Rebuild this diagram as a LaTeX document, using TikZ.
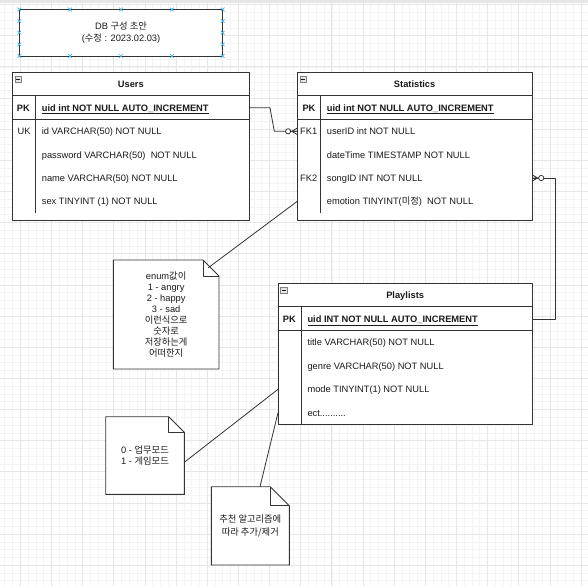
\documentclass[tikz,border=0pt]{standalone}
\usepackage{fontspec}
\setmainfont{Liberation Sans}
\newfontfamily\kr{Noto Sans CJK KR}
\usetikzlibrary{calc,backgrounds}
\definecolor{ink}{HTML}{1A1A1A}
\definecolor{edge}{HTML}{333333}
\definecolor{gridmin}{HTML}{F4F4F4}
\definecolor{gridmaj}{HTML}{E6E6E6}
\definecolor{grip}{HTML}{3DB8F5}

\begin{document}
\begin{tikzpicture}[
  x=1pt, y=-1pt,
  line join=round,
  font=\fontsize{9.3}{11.1}\selectfont,
  every node/.style={text=ink},
  frame/.style={draw=edge, line width=0.9pt},
  tbl/.style={frame, fill=white, anchor=north west, inner sep=0pt, outer sep=0pt},
  row/.style={anchor=west, inner sep=0pt, text height=6.7pt, text depth=0pt},
  key/.style={inner sep=0pt, text height=6.7pt, text depth=0pt},
  bold/.style={font=\fontsize{9.3}{11.1}\selectfont\bfseries},
  memo/.style={anchor=north west, inner sep=0pt, outer sep=0pt, align=center},
  link/.style={draw=edge, line width=0.8pt},
  gripmark/.style={draw=grip, line width=0.7pt},
  zeromany/.pic={
    \draw[link] (-5.5,0) -- (0,-3.3) (-5.5,0) -- (0,3.3) (-9,0) -- (0,0);
    \draw[link, fill=white] (-9.2,0) circle[radius=2.6pt];
  },
]
\useasboundingbox (0,0) rectangle (588,586);

% ── the canvas grid ───────────────────────────────────────────────────────
\begin{scope}[on background layer]
  \clip (0,0) rectangle (588,586);
  \fill[white] (0,0) rectangle (588,586);
  \foreach \i in {-2,...,73} { \draw[gridmin, line width=0.5pt] ({20.25+7.7875*\i},0) -- ++(0,586); }
  \foreach \j in {0,...,75} { \draw[gridmin, line width=0.5pt] (0,{4.45+7.7875*\j}) -- ++(588,0); }
  \foreach \i in {0,...,18} { \draw[gridmaj, line width=0.6pt] ({20.25+31.15*\i},0) -- ++(0,586); }
  \foreach \j in {0,...,18} { \draw[gridmaj, line width=0.6pt] (0,{4.45+31.15*\j}) -- ++(588,0); }
  \fill[gridmaj] (0,0) rectangle (588,3);
\end{scope}

% ── the title box, still selected ─────────────────────────────────────────
\node[tbl, minimum width=203.4pt, minimum height=46.5pt, align=center] (title) at (19.3,9.5)
  {DB {\kr 구성 초안}\\[1.5pt]({\kr 수정} : 2023.02.03)};
\foreach \fx in {0,0.25,0.5,0.75,1} {
  \draw[gripmark] ($(title.north west)!\fx!(title.north east)$) ++(-1.8,-1.8) -- ++(3.6,3.6) ++(-3.6,0) -- ++(3.6,-3.6);
  \draw[gripmark] ($(title.south west)!\fx!(title.south east)$) ++(-1.8,-1.8) -- ++(3.6,3.6) ++(-3.6,0) -- ++(3.6,-3.6);
}
\foreach \fy in {0.25,0.5,0.75} {
  \draw[gripmark] ($(title.north west)!\fy!(title.south west)$) ++(-1.8,-1.8) -- ++(3.6,3.6) ++(-3.6,0) -- ++(3.6,-3.6);
  \draw[gripmark] ($(title.north east)!\fy!(title.south east)$) ++(-1.8,-1.8) -- ++(3.6,3.6) ++(-3.6,0) -- ++(3.6,-3.6);
}

% ── the three tables ──────────────────────────────────────────────────────
\node[tbl, minimum width=237pt, minimum height=148.4pt] (users) at (12.3,72.3) {};
\node[tbl, minimum width=234.7pt, minimum height=148.4pt] (statistics) at (297.3,72.3) {};
\node[tbl, minimum width=254.3pt, minimum height=140.7pt] (playlists) at (278,283.3) {};

\foreach \t/\s/\h in {users/140.4/Users, statistics/140.4/Statistics, playlists/140.7/Playlists} {
  \draw[frame] ([yshift=-23.6pt]\t.north west) -- ([yshift=-23.6pt]\t.north east);
  \draw[frame] ([yshift=-47pt]\t.north west) -- ([yshift=-47pt]\t.north east);
  \draw[frame] ([xshift=23.6pt,yshift=-23.6pt]\t.north west) -- ++(0,\s-23.6);
  \draw[draw=gray, fill=gray!20, line width=0.5pt] ([xshift=2.6pt,yshift=-3.6pt]\t.north west) rectangle ++(6.4,6.4);
  \draw[ink, line width=0.6pt] ([xshift=3.8pt,yshift=-6.8pt]\t.north west) -- ++(4,0);
  \node[key, bold] (\t-head) at ($(\t.north)+(0,11.8)$) {\h};
}

% Users
\node[key, bold] (u-pk) at (23.3,107.7) {PK};
\node[row, bold] (u-uid) at (41.7,107.7) {\underline{uid int NOT NULL AUTO\_INCREMENT}};
\node[key] (u-uk) at (24,131.3) {UK};
\foreach \n/\y/\t in {id/131.3/id VARCHAR(50) NOT NULL,
    pw/154.7/password VARCHAR(50)~ NOT NULL,
    name/178/name VARCHAR(50) NOT NULL,
    sex/201.3/sex TINYINT (1) NOT NULL}
  { \node[row] (u-\n) at (41.7,\y) {\t}; }

% Statistics
\node[key, bold] (s-pk) at (309,107.7) {PK};
\node[row, bold] (s-uid) at (326.7,107.7) {\underline{uid int NOT NULL AUTO\_INCREMENT}};
\node[key] (s-fk1) at (308.7,131.3) {FK1};
\node[key] (s-fk2) at (308.7,178) {FK2};
\foreach \n/\y/\t in {userID/131.3/userID int NOT NULL,
    dateTime/154.7/dateTime TIMESTAMP NOT NULL,
    songID/178/songID INT NOT NULL,
    emotion/201.3/emotion TINYINT({\kr 미정})~ NOT NULL}
  { \node[row] (s-\n) at (326.7,\y) {\t}; }

% Playlists
\node[key, bold] (p-pk) at (289.3,319) {PK};
\node[row, bold] (p-uid) at (307.3,319) {\underline{uid INT NOT NULL AUTO\_INCREMENT}};
\foreach \n/\y/\t in {title/342.3/title VARCHAR(50) NOT NULL,
    genre/366/genre VARCHAR(50) NOT NULL,
    mode/389.3/mode TINYINT(1) NOT NULL}
  { \node[row] (p-\n) at (307.3,\y) {\t}; }
\node[row] (p-ect) at (307.3,412.7) {ect..........};

% ── the relations ─────────────────────────────────────────────────────────
\draw[link] (users.east |- u-uid) -- ++(20.7,0)
  -- ($(statistics.west |- s-userID)+(-23,0)$) -- (statistics.west |- s-userID);
\pic at (statistics.west |- s-userID) {zeromany};

\draw[link] (playlists.east |- p-uid) -- ++(22.7,0) |- (statistics.east |- s-songID);
\pic[rotate=180] at (statistics.east |- s-songID) {zeromany};

% ── the notes ─────────────────────────────────────────────────────────────
\node[memo, minimum width=105.7pt, minimum height=109pt] (n-enum) at (113.3,260)
  {enum{\kr 값이}\\1 - angry\\2 - happy\\3 - sad\\{\kr 이런식으로}\\{\kr 숫자로}\\{\kr 저장하는게}\\{\kr 어떠한지}};
\node[memo, minimum width=78.6pt, minimum height=77.6pt] (n-mode) at (105.7,416.7)
  {0 - {\kr 업무모드}\\1 - {\kr 게임모드}};
\node[memo, minimum width=78pt, minimum height=78.3pt] (n-algo) at (211.3,486.7)
  {{\kr 추천 알고리즘에}\\[1.5pt]{\kr 따라 추가/제거}};

\begin{scope}[on background layer]
\foreach \m/\f in {n-enum/16, n-mode/15.5, n-algo/19} {
  \draw[frame, fill=white] (\m.north west) -- ([xshift=-\f pt]\m.north east)
    -- ([yshift=-\f pt]\m.north east) -- (\m.south east) -- (\m.south west) -- cycle;
}
\end{scope}
\foreach \m/\f in {n-enum/16, n-mode/15.5, n-algo/19} {
  \draw[frame] ([xshift=-\f pt]\m.north east) -- ++(0,\f) -- ([yshift=-\f pt]\m.north east);
}

\coordinate (enum-fold) at ($(n-enum.north east)+(-10.7,7.7)$);
\draw[link] (enum-fold) -- (statistics.west |- s-emotion);
\draw[link] ($(n-mode.east)+(0,6.8)$) -- (playlists.west |- p-mode);
\draw[link] ($(n-algo.north)+(9.7,0)$) -- (playlists.west |- p-ect);

\end{tikzpicture}
\end{document}
